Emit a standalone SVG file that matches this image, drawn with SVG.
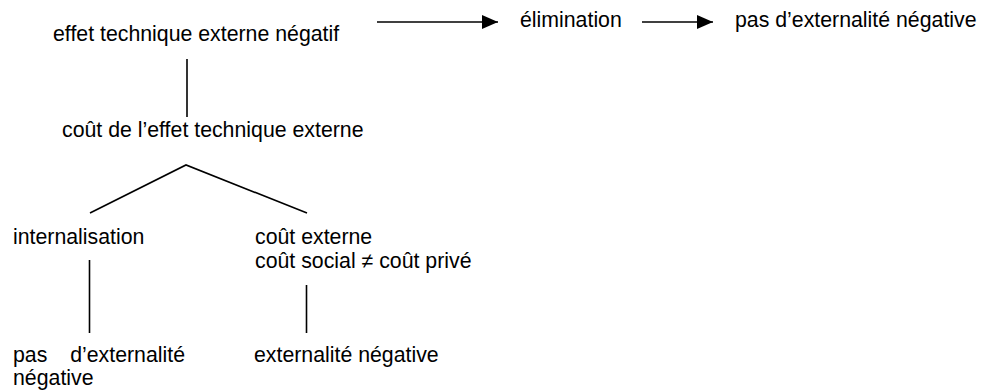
<svg xmlns="http://www.w3.org/2000/svg" width="987" height="392" viewBox="0 0 987 392">
<style>
text{font-family:"Liberation Sans",Arial,sans-serif;font-size:21.3px;fill:#000}
.c{stroke:#000;stroke-width:1.6;fill:none}
</style>
<defs>
<marker id="ah" viewBox="0 0 16 14" refX="16" refY="7" markerWidth="16" markerHeight="14" markerUnits="userSpaceOnUse" orient="auto">
<path d="M0,0 L16,7 L0,14 Z" fill="#000"/>
</marker>
</defs>
<rect width="987" height="392" fill="#fff"/>
<g id="connectors">
<line class="c" x1="377" y1="22" x2="498" y2="22" marker-end="url(#ah)"/>
<line class="c" x1="642" y1="22" x2="713" y2="22" marker-end="url(#ah)"/>
<line class="c" x1="187" y1="59" x2="187" y2="117"/>
<polyline class="c" points="90,213 186,165 307,213"/>
<line class="c" x1="89.5" y1="260" x2="89.5" y2="333"/>
<line class="c" x1="306.5" y1="285" x2="306.5" y2="333"/>
</g>
<g id="n-effet"><text x="53" y="41">effet technique externe négatif</text></g>
<g id="n-elimination"><text x="520" y="27">élimination</text></g>
<g id="n-pas-top"><text x="735" y="27">pas d’externalité négative</text></g>
<g id="n-cout"><text x="62" y="137">coût de l’effet technique externe</text></g>
<g id="n-internalisation"><text x="13" y="244">internalisation</text></g>
<g id="n-cout-externe"><text x="255" y="244">coût externe</text><text x="255" y="268">coût social ≠ coût privé</text></g>
<g id="n-pas-bottom"><text x="13" y="362">pas</text><text x="185" y="362" text-anchor="end">d’externalité</text><text x="13" y="385">négative</text></g>
<g id="n-externalite"><text x="254" y="362">externalité négative</text></g>
</svg>
